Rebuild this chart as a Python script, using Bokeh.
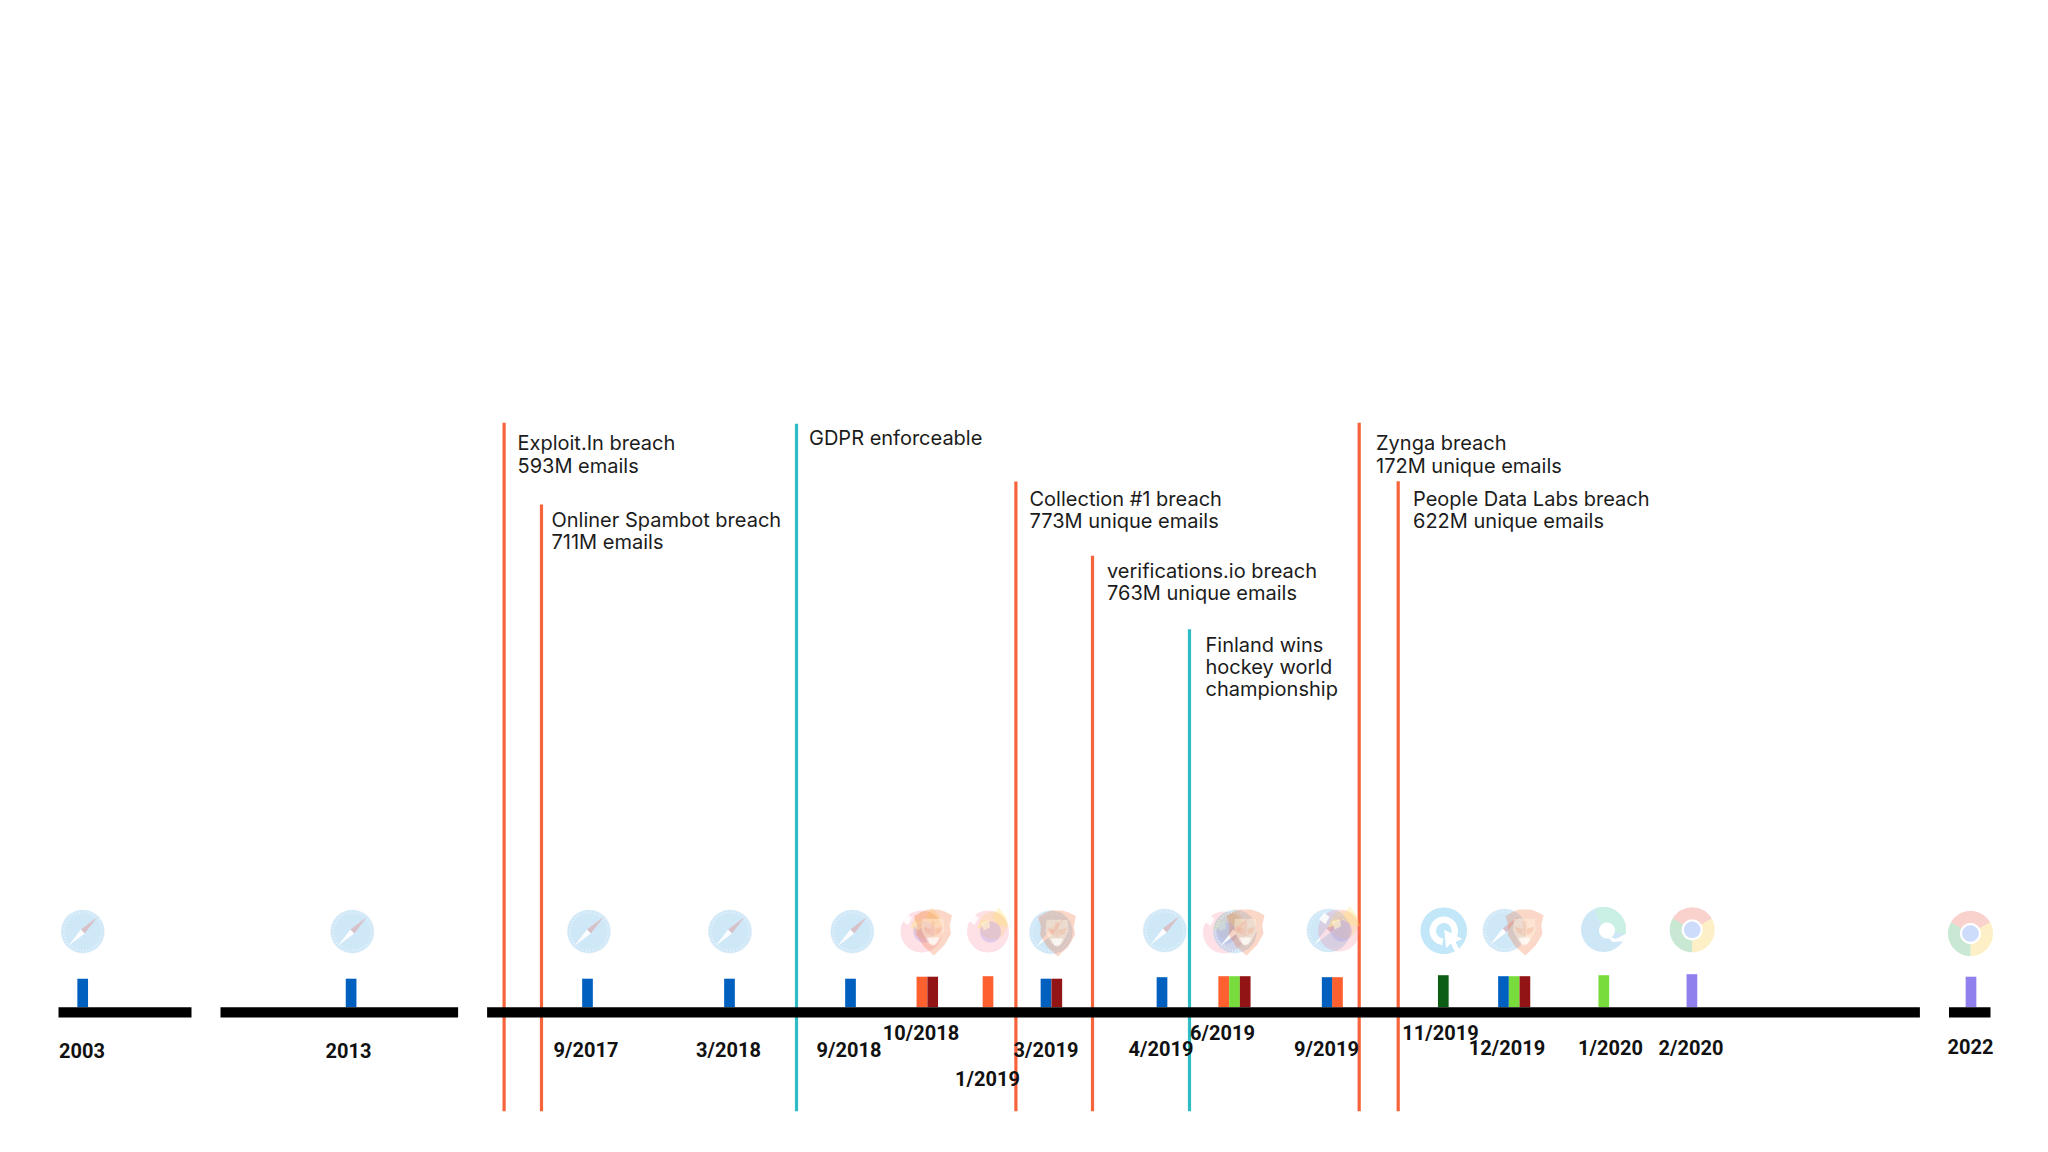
import math
from bokeh.plotting import figure
from bokeh.models import Range1d, ColumnDataSource
from bokeh.core.properties import value
from bokeh.embed import file_html
from bokeh.resources import INLINE

# ---- chart values (timeline position, in picture units) ----
timeline_start = [58, 220, 486.6, 1948.5]
timeline_end = [191, 457.6, 1919.4, 1990]

bar_pos = [82.2, 350.6, 587, 729, 850, 921.4, 932.2, 987.5, 1045.5, 1056.3, 1161.5,
           1223.2, 1234, 1244.7, 1326.7, 1337, 1442.8, 1503, 1513.7, 1524.4, 1603.3, 1691.4, 1970.5]
bar_height = [28.5, 28.5, 28.5, 28.5, 28.5, 30.5, 30.5, 31, 28.5, 28.5, 30,
              31, 31, 31, 30, 30, 32, 31, 31, 31, 32, 33, 30.5]
bar_browser = ["safari", "safari", "safari", "safari", "safari", "firefox", "brave", "firefox",
               "safari", "brave", "safari", "firefox", "edge", "brave", "safari", "firefox",
               "cursor", "safari", "edge", "brave", "edge", "chrome", "chrome"]

date_labels = ["2003", "2013", "9/2017", "3/2018", "9/2018", "10/2018", "1/2019", "3/2019", "4/2019",
               "6/2019", "9/2019", "11/2019", "12/2019", "1/2020", "2/2020", "2022"]
date_pos = [81.5, 348, 585.5, 728, 848.5, 920.5, 987, 1045.5, 1160.5,
            1222, 1326, 1440, 1506.5, 1610, 1690.5, 1970]
date_row = [1049.7, 1049.7, 1049.7, 1049.7, 1049.7, 1032, 1078, 1049.7, 1048.7,
            1032, 1048.7, 1032, 1047, 1047, 1047, 1046]

event_pos = [503.6, 541, 796, 1015.4, 1092, 1189, 1358.7, 1397.7]
event_top = [422.3, 504, 423.3, 481, 555.3, 628.7, 422.3, 480.7]
event_kind = ["breach", "breach", "other", "breach", "breach", "other", "breach", "breach"]
event_bottom = 1110.7

note_text = ["Exploit.In breach", "593M emails", "Onliner Spambot breach", "711M emails",
             "GDPR enforceable", "Collection #1 breach", "773M unique emails",
             "verifications.io breach", "763M unique emails", "Finland wins", "hockey world",
             "championship", "Zynga breach", "172M unique emails", "People Data Labs breach",
             "622M unique emails"]
note_x = [517, 517, 551, 551, 808.5, 1029, 1029, 1106.5, 1106.5, 1205, 1205, 1205,
          1375.5, 1375.5, 1412.5, 1412.5]
note_y = [442.8, 465.2, 519.5, 541.8, 437.5, 498.5, 520.8, 570.2, 592.8, 644.5, 666.8, 688.5,
          442.8, 465.2, 498.5, 520.8]

icon_kind = ["safari", "safari", "safari", "safari", "safari", "firefox", "brave", "firefox",
             "safari", "brave", "safari", "firefox", "safari", "brave", "safari", "firefox",
             "cursor", "safari", "brave", "edge", "chrome", "chrome"]
icon_x = [82.3, 351.8, 588.4, 729.5, 851.8, 921, 932.5, 987.5, 1050.5, 1056.5, 1164.3, 1223.5,
          1234.5, 1245, 1328, 1338.5, 1443.3, 1504, 1524, 1603, 1691.7, 1970]
icon_y = [931, 931, 931, 931, 931, 931, 932, 931, 931.7, 933, 930, 932, 931, 932, 930, 930,
          930.3, 930, 932, 929, 929.3, 933]

browser_colour = {"safari": "#0060C0", "firefox": "#FF6030", "brave": "#931414", "edge": "#78DC3C",
                  "cursor": "#0B5E14", "chrome": "#8F80EE"}
event_colour = {"breach": "#F7643C", "other": "#2FBCC6"}

axis_top, axis_bottom = 1006.7, 1017

p = figure(width=2032, height=1136, x_range=Range1d(0, 2032), y_range=Range1d(1136, 0),
           x_axis_type=None, y_axis_type=None, toolbar_location=None, output_backend="svg",
           min_border=0, background_fill_color="#FFFFFF", border_fill_color="#FFFFFF")
p.outline_line_color = None
p.grid.visible = False


def blob(pts, fill, alpha):
    xs, ys = zip(*pts)
    p.patch(list(xs), list(ys), fill_color=fill, fill_alpha=alpha, line_color=None)


def ring(cx, cy, r, start=0.0, stop=360.0, n=48):
    return [(cx + r * math.cos(math.radians(start + (stop - start) * i / n)),
             cy - r * math.sin(math.radians(start + (stop - start) * i / n))) for i in range(n + 1)]


def scaled(cx, cy, sx, sy, pts):
    return [(cx + a * sx, cy + b * sy) for a, b in pts]


def draw_safari(cx, cy):
    r = 21.5
    blob(ring(cx, cy, r + 0.8), "#B8C8D8", 0.12)
    blob(ring(cx, cy, r), "#6CBDF5", 0.28)
    p.line(*zip(*ring(cx, cy, r - 2.4)), line_color="#FFFFFF", line_alpha=0.45, line_width=2.4, line_dash=[1, 2])
    blob(scaled(cx, cy, r, r, [(0.68, -0.68), (0.09, 0.09), (-0.09, -0.09)]), "#F0645A", 0.30)
    blob(scaled(cx, cy, r, r, [(-0.68, 0.68), (0.09, 0.09), (-0.09, -0.09)]), "#FFFFFF", 0.9)


def draw_firefox(cx, cy):
    r = 21
    blob(ring(cx, cy, r), "#F87890", 0.22)
    blob(ring(cx + 5, cy - 6, 14), "#FFC860", 0.24)
    blob(scaled(cx, cy, r, r, [(0.2, -0.7), (0.5, -1.15), (0.85, -0.75), (1.0, -0.2), (0.5, -0.3)]), "#FFE070", 0.3)
    blob(scaled(cx, cy, r, r, [(-0.95, -0.55), (-0.7, -0.85), (-0.45, -0.65), (-0.65, -0.3)]), "#FFFFFF", 0.85)
    blob(scaled(cx, cy, r, r, [(-0.3, -0.55), (0.1, -0.5), (-0.2, -0.2), (-0.55, -0.15)]), "#FFE6A0", 0.5)
    blob(ring(cx + 2.5, cy + 0.5, 10.5), "#9A88F0", 0.26)
    blob(scaled(cx, cy, r, r, [(-0.35, -0.4), (0.05, -0.55), (0.1, -0.2), (-0.2, -0.05)]), "#FFF0D0", 0.7)


def draw_brave(cx, cy):
    sx, sy = 19, 23
    blob(scaled(cx, cy, sx, sy, [(-0.6, -0.9), (-0.3, -1.0), (0.3, -1.0), (0.65, -0.9), (1.0, -0.75),
                                 (0.88, -0.3), (0.95, 0.05), (0.6, 0.55), (0.05, 1.0), (-0.5, 0.6),
                                 (-0.88, 0.1), (-0.85, -0.3), (-1.0, -0.72)]), "#F0703A", 0.28)
    blob(scaled(cx, cy, sx, sy, [(-0.55, -0.6), (0.55, -0.6), (0.6, -0.1), (0.3, 0.4), (0, 0.6),
                                 (-0.3, 0.4), (-0.6, -0.1)]), "#FFF2DC", 0.5)
    blob(scaled(cx, cy, sx, sy, [(-0.5, -0.25), (-0.1, -0.15), (-0.15, 0.1), (-0.4, 0.0)]), "#F09070", 0.25)
    blob(scaled(cx, cy, sx, sy, [(0.5, -0.25), (0.1, -0.15), (0.15, 0.1), (0.4, 0.0)]), "#F09070", 0.25)
    blob(scaled(cx, cy, sx, sy, [(-0.1, -0.5), (0.1, -0.5), (0.1, 0.15), (-0.1, 0.15)]), "#F0A080", 0.22)
    blob(scaled(cx, cy, sx, sy, [(-0.32, 0.22), (0.32, 0.22), (0.15, 0.52), (-0.15, 0.52)]), "#FFFFFF", 0.7)


def draw_chrome(cx, cy):
    r = 22.5
    for start, stop, col in [(30, 150, "#E8584C"), (150, 270, "#3CAE66"), (270, 390, "#FBC933")]:
        blob([(cx, cy)] + ring(cx, cy, r, start, stop, 24), col, 0.28)
    blob(ring(cx, cy, 10.5), "#FFFFFF", 1.0)
    blob(ring(cx, cy, 8.3), "#5C8CF5", 0.30)


def draw_edge(cx, cy):
    r = 22.5
    blob(ring(cx, cy, r), "#5CB0E0", 0.30)
    blob([(cx, cy)] + ring(cx, cy, r, -12, 115, 24), "#FFFFFF", 0.7)
    blob([(cx, cy)] + ring(cx, cy, r, -12, 115, 24), "#5CD8A4", 0.26)
    blob(ring(cx + 3.5, cy + 1, 8.0), "#FFFFFF", 1.0)
    blob(scaled(cx, cy, r, r, [(0.15, 0.28), (0.55, 0.42), (1.02, 0.18), (0.85, 0.52), (0.4, 0.55)]), "#FFFFFF", 1.0)


def draw_cursor(cx, cy):
    r = 23.3
    blob(ring(cx, cy, r), "#5CC0F0", 0.38)
    p.line(*zip(*ring(cx, cy, 11, 325, 325 + 300)), line_color="#FFFFFF", line_width=6.5)
    blob(scaled(cx, cy, r, r, [(0.02, -0.05), (0.8, 0.35), (0.5, 0.48), (0.68, 0.82), (0.48, 0.9),
                               (0.3, 0.55), (0.1, 0.75)]), "#FFFFFF", 1.0)


drawers = {"safari": draw_safari, "firefox": draw_firefox, "brave": draw_brave,
           "chrome": draw_chrome, "edge": draw_edge, "cursor": draw_cursor}

# event lines
p.segment(x0=event_pos, y0=event_top, x1=event_pos, y1=[event_bottom] * len(event_pos),
          line_color=[event_colour[k] for k in event_kind], line_width=3.2)

# browser icons
for kind, x, y in zip(icon_kind, icon_x, icon_y):
    drawers[kind](x, y)

# bars standing on the timeline
bars = ColumnDataSource(dict(x=bar_pos,
                             top=[axis_top - h for h in bar_height],
                             color=[browser_colour[b] for b in bar_browser]))
p.vbar(x="x", width=10.7, top="top", bottom=axis_top, color="color", line_color=None, source=bars)

# timeline
p.quad(left=timeline_start, right=timeline_end, top=axis_top, bottom=axis_bottom,
       fill_color="#000000", line_color=None)

# date labels
p.text(x=date_pos, y=date_row, text=date_labels, text_font=value("Roboto"), text_font_style="bold",
       text_font_size="20px", text_color="#111111", text_align="center", text_baseline="middle")

# event notes
p.text(x=note_x, y=note_y, text=note_text, text_font=value("Inter"), text_font_size="20px",
       text_color="#1C1C1C", text_align="left", text_baseline="alphabetic")

open("out.html", "w").write(file_html(p, INLINE))
